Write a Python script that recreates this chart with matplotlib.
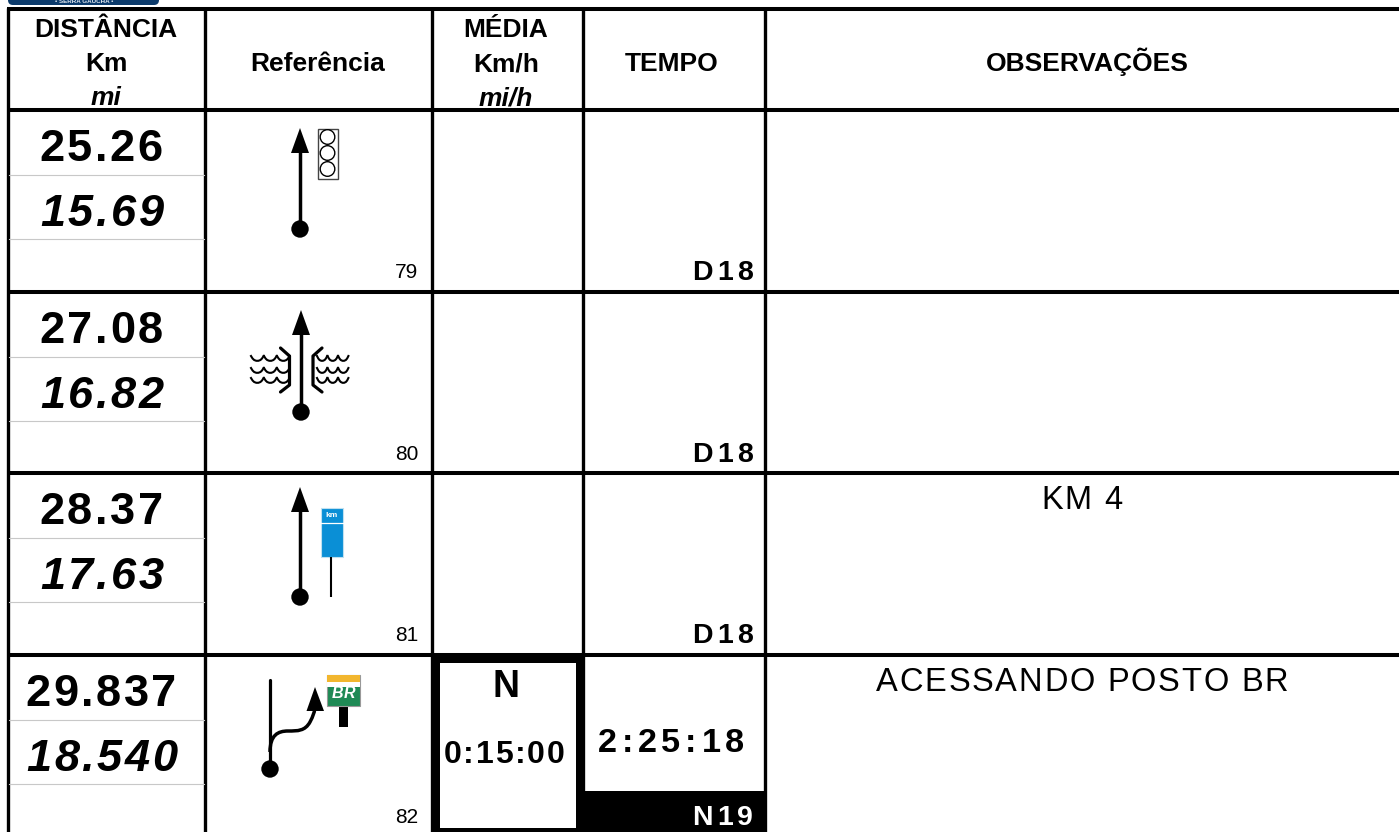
import numpy as np
import matplotlib.pyplot as plt
from matplotlib.patches import Rectangle, Circle, Polygon, FancyBboxPatch, PathPatch
from matplotlib.path import Path

plt.rcParams['font.family'] = ['Liberation Sans', 'DejaVu Sans']

# data
headers = ['Referência', 'TEMPO', 'OBSERVAÇÕES']
km = ['25.26', '27.08', '28.37', '29.837']
mi = ['15.69', '16.82', '17.63', '18.540']
ref_no = ['79', '80', '81', '82']
tempo = ['D18', 'D18', 'D18', 'N19']
obs = ['', '', 'KM 4', 'ACESSANDO POSTO BR']

row_top = [110, 292, 473, 655]
col_x = [8, 205, 432, 583, 765]

fig = plt.figure(figsize=(13.99, 8.32), dpi=100)
ax = fig.add_axes([0, 0, 1, 1])
ax.set_xlim(0, 1399)
ax.set_ylim(832, 0)
ax.axis('off')
renderer = fig.canvas.get_renderer()


def advance(c, fontsize, weight, style):
    # width of one character, measured between two H so spaces and bearings count
    def w(s):
        t = ax.text(0, 0, s, fontsize=fontsize, fontweight=weight, style=style)
        out = t.get_window_extent(renderer).width
        t.remove()
        return out
    return w('H' + c + 'H') - w('HH')


def wide(x, y, s, fontsize, color='black', style='normal', ha='center', gap=2.6, weight='bold'):
    # letter spaced text on a baseline, the reference uses wide tracking
    widths = [advance(c, fontsize, weight, style) for c in s]
    total = sum(widths) + gap * (len(s) - 1)
    cx = x - total / 2 if ha == 'center' else x - total
    for c, w in zip(s, widths):
        ax.text(cx, y, c, fontsize=fontsize, fontweight=weight, style=style, color=color,
                ha='left', va='baseline')
        cx += w + gap


# logo sliver at the top
ax.add_patch(FancyBboxPatch((8, -12), 151, 17, boxstyle='round,pad=0,rounding_size=5',
                            fc='#0b3a6b', ec='none'))
ax.text(84, 1.5, '• SERRA GAÚCHA •', color='#dfe6ee', fontsize=4.5, fontweight='bold',
        ha='center', va='center')

# black box of the N stage and time block
ax.add_patch(Rectangle((431, 655), 154, 177, fc='black', ec='none'))
ax.add_patch(Rectangle((440, 663), 136, 165, fc='white', ec='none'))
ax.add_patch(Rectangle((583, 791), 182, 41, fc='black', ec='none'))

# grid
for x in col_x:
    ax.plot([x, x], [8, 832], color='black', lw=2.4, solid_capstyle='butt')
for y in [9] + row_top:
    ax.plot([col_x[0] - 1.5, 1399], [y, y], color='black', lw=2.9, solid_capstyle='butt')
for y0 in row_top:
    for d in (65, 129):
        ax.plot([9, 204], [y0 + d, y0 + d], color='#c8c8c8', lw=0.8)

# header
hkw = dict(fontsize=19, fontweight='bold', ha='center', va='baseline')
ax.text(106, 37, 'DISTÂNCIA', **hkw)
ax.text(106, 71, 'Km', **hkw)
ax.text(106, 105, 'mi', style='italic', **hkw)
ax.text(318, 71, headers[0], **hkw)
ax.text(506, 37, 'MÉDIA', **hkw)
ax.text(506, 71, 'Km/h', **hkw)
ax.text(506, 105, 'mi/h', style='italic', **hkw)
ax.text(672, 71, headers[1], **hkw)
ax.text(1087, 71, headers[2], **hkw)

for i, y0 in enumerate(row_top):
    wide(101, y0 + 51, km[i], 32.5)
    wide(102, y0 + 116, mi[i], 32.5, style='italic')
    ax.text(418, y0 + 168, ref_no[i], fontsize=15, ha='right', va='baseline')
    wide(753, y0 + 170, tempo[i], 20.5, ha='right', gap=4.5,
         color='white' if i == 3 else 'black')
    if obs[i]:
        wide(1082, y0 + 36, obs[i], 23.5, weight='normal', gap=1.8)

ax.text(506, 697, 'N', fontsize=27, fontweight='bold', ha='center', va='baseline')
wide(504, 763, '0:15:00', 23, gap=1.8)
wide(671, 752, '2:25:18', 24.7, gap=4.8)


def arrow(x, top, bottom):
    ax.plot([x, x], [top + 20, bottom], color='black', lw=2.5, solid_capstyle='butt')
    ax.add_patch(Polygon([(x, top), (x - 9, top + 25), (x + 9, top + 25)], fc='black', ec='none'))
    ax.add_patch(Circle((x, bottom), 8.7, fc='black', ec='none'))


# 79 signal
arrow(300, 128, 229)
ax.add_patch(Rectangle((317.5, 128.5), 20, 50.5, fc='white', ec='#444444', lw=1))
for cy in (137, 153, 169):
    ax.add_patch(Circle((327.5, cy), 7.3, fc='white', ec='black', lw=1))

# 80 bridge over water
arrow(301, 310, 412)
for bx, sgn in ((289.5, -1), (313, 1)):
    ax.plot([bx + sgn * 9, bx, bx, bx + sgn * 9], [348, 356, 385, 392],
            color='black', lw=2.3, solid_capstyle='round')
wave_x = np.array([0, 1.5, 3, 5, 7, 9, 10.5, 12])
wave_y = np.array([0, 2.5, 4, 4.8, 4.8, 4, 2.5, 0])
for wy in (356, 368, 378):
    for k in range(3):
        ax.plot(251 + k * 13 + wave_x * 1.05, wy + wave_y, color='black', lw=1.5)
        ax.plot(317 + k * 10.6 + wave_x * 0.85, wy + wave_y, color='black', lw=1.5)

# 81 km sign
arrow(300, 487, 597)
ax.add_patch(Rectangle((321, 508), 22, 49, fc='#0a8fd6', ec='#bfe0f0', lw=0.8))
ax.plot([321, 343], [523, 523], color='white', lw=0.9)
ax.text(332, 515.5, 'km', color='white', fontsize=6, fontweight='bold', ha='center', va='center')
ax.plot([331, 331], [557, 597], color='black', lw=1.5, solid_capstyle='butt')

# 82 BR fuel station
ax.plot([270, 270], [680, 769], color='black', lw=2.3, solid_capstyle='round')
ax.add_patch(Circle((270, 769), 8.7, fc='black', ec='none'))
verts = [(270, 752), (270, 735), (278, 731), (288, 731), (298, 731), (305, 731), (310, 722),
         (313, 716), (315, 712), (315, 705)]
codes = [Path.MOVETO] + [Path.CURVE4] * 9
ax.add_patch(PathPatch(Path(verts, codes), fc='none', ec='black', lw=2.5))
ax.add_patch(Polygon([(315, 687), (306.5, 711), (324, 711)], fc='black', ec='none'))
ax.add_patch(Rectangle((339, 706), 9, 21, fc='black', ec='none'))
ax.add_patch(Rectangle((327, 675), 33, 31, fc='#1f8a55', ec='#999999', lw=0.8))
ax.add_patch(Rectangle((327, 675), 33, 7, fc='#f2b62e', ec='none'))
ax.add_patch(Rectangle((327, 682), 33, 5, fc='white', ec='none'))
wide(343.5, 698.5, 'BR', 11.5, color='white', style='italic', gap=1)

fig.savefig('out.png', dpi=100)
